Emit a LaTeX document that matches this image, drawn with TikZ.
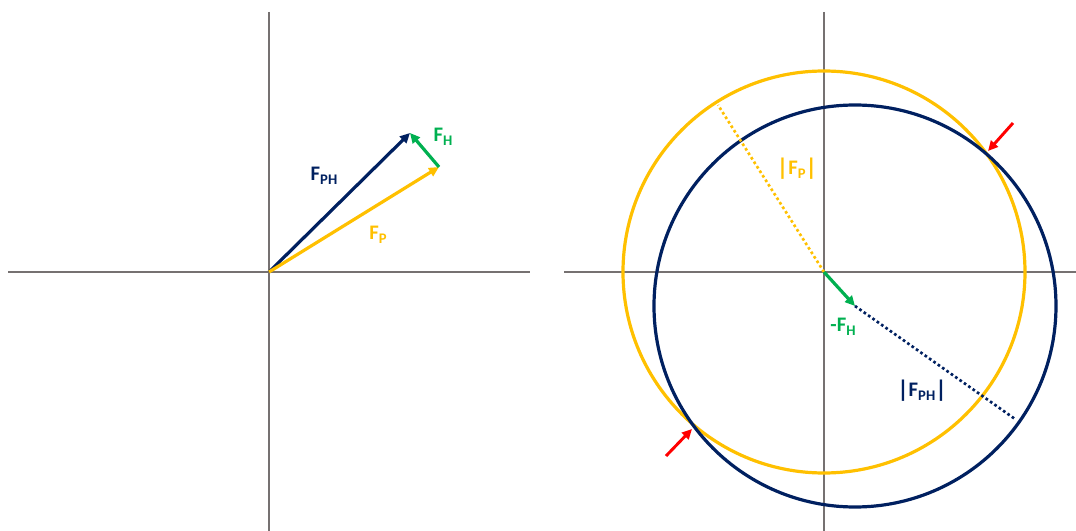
\documentclass[tikz,border=0pt]{standalone}
\usepackage{fontspec}
\setmainfont{Carlito}
\usetikzlibrary{arrows.meta}
\definecolor{navy}{HTML}{002060}
\definecolor{gold}{HTML}{FFC000}
\definecolor{grn}{HTML}{00B050}
\definecolor{axgray}{HTML}{767171}
\definecolor{redarrow}{HTML}{FF0000}
\newcommand\mysub[1]{\raisebox{-0.45ex}{\fontsize{11}{11}\selectfont #1}}
\newcommand\mybar{\raisebox{-0.15ex}{\fontsize{18}{18}\selectfont |}}
\begin{document}
\begin{tikzpicture}[x=0.75pt,y=-0.75pt,
  axis/.style={axgray,line width=2.1pt},
  vec/.style={line width=2.4pt,-{Triangle[length=7.5pt,width=7pt]}},
  ring/.style={line width=2.4pt},
  dotline/.style={line width=2pt,dash pattern=on 2pt off 2pt},
  lbl/.style={font=\fontsize{15.5}{15.5}\selectfont\bfseries, inner sep=0pt}
]
\useasboundingbox (0,0) rectangle (1076,531);
% ---------- left diagram ----------
\coordinate (L-left) at (8,272);
\coordinate (L-right) at (530,272);
\coordinate (L-top) at (269,12);
\coordinate (L-bot) at (269,531);
\draw[axis] (L-left) -- (L-right);
\draw[axis] (L-top) -- (L-bot);
\coordinate (O1) at (269,272);
\coordinate (tipPH) at (410,133);
\coordinate (tipP) at (439,167);
\draw[vec,navy] (O1) -- (tipPH);
\draw[vec,gold] (O1) -- (tipP);
\draw[vec,grn] (tipP) -- (tipPH);
\node[lbl,navy] (lFPH) at (324,176) {F\mysub{PH}};
\node[lbl,grn] (lFH) at (443,137) {F\mysub{H}};
\node[lbl,gold] (lFP) at (378,235) {F\mysub{P}};
% ---------- right diagram ----------
\coordinate (R-left) at (564,272);
\coordinate (R-right) at (1076,272);
\coordinate (R-top) at (824,12);
\coordinate (R-bot) at (824,531);
\draw[axis] (R-left) -- (R-right);
\draw[axis] (R-top) -- (R-bot);
\coordinate (O2) at (824,272);
\coordinate (C2) at (855,306);
\draw[ring,gold] (O2) circle[radius=201];
\draw[ring,navy] (C2) circle[radius=201];
\coordinate (rP) at (718,105);
\coordinate (rPH) at (1015,419);
\draw[dotline,gold] (O2) -- (rP);
\draw[dotline,navy] (C2) -- (rPH);
\draw[vec,grn] (O2) -- (C2);
\node[lbl,gold] (labsFP) at (797,169) {\mybar F\mysub{P}\mybar};
\node[lbl,navy] (labsFPH) at (922,391) {\mybar F\mysub{PH}\mybar};
\node[lbl,grn] (lmFH) at (843,327) {-F\mysub{H}};
% red arrows at the intersections
\coordinate (x1) at (988,151);
\coordinate (x1s) at (1013,123);
\coordinate (x2) at (692,429);
\coordinate (x2s) at (666,456);
\draw[vec,redarrow,line width=2.2pt] (x1s) -- (x1);
\draw[vec,redarrow,line width=2.2pt] (x2s) -- (x2);
\end{tikzpicture}
\end{document}
